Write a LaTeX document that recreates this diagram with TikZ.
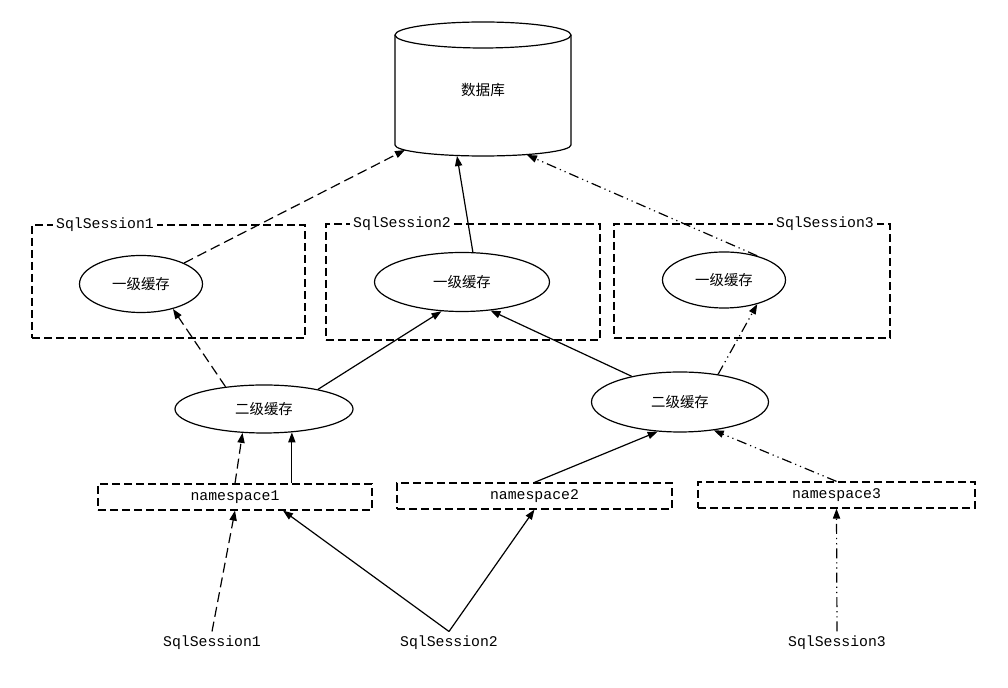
\documentclass[tikz,border=0pt]{standalone}
\usepackage{fontspec}
\setmonofont{Liberation Mono}
\newfontfamily\cjk{Noto Sans CJK SC}
\usetikzlibrary{arrows.meta,shapes.geometric,calc}
\begin{document}
\begin{tikzpicture}[x=0.5pt,y=-0.5pt,
  line width=0.6pt,
  ell/.style={draw,ellipse,inner sep=0pt,font=\cjk\fontsize{7.2pt}{8pt}\selectfont},
  sbox/.style={draw,rectangle,dash pattern=on 4pt off 2pt,inner sep=0pt},
  nsbox/.style={draw,rectangle,dash pattern=on 4pt off 2pt,inner sep=0pt,minimum height=13pt,font=\ttfamily\fontsize{7.4pt}{8pt}\selectfont},
  tlabel/.style={fill=white,inner sep=1.5pt,font=\ttfamily\fontsize{7.4pt}{8pt}\selectfont},
  blabel/.style={inner sep=2pt,font=\ttfamily\fontsize{7.4pt}{8pt}\selectfont},
  arr/.style={-{Triangle[length=5pt,width=3.6pt]}},
  dsh/.style={dash pattern=on 5pt off 2.5pt},
  ddd/.style={dash pattern=on 5pt off 2pt on 0.6pt off 2pt on 0.6pt off 2pt},
]
\useasboundingbox (0,0) rectangle (1008,688);
% database cylinder
\draw (483,35) ellipse [x radius=44pt, y radius=6.5pt];
\draw (395,35) -- (395,145) arc[start angle=180, end angle=360, x radius=44pt, y radius=5.5pt] -- (571,35);
\node[font=\cjk\fontsize{7.3pt}{8pt}\selectfont] (db) at (483,90) {数据库};
\coordinate (dbA) at (405,150);
\coordinate (dbB) at (457,156);
\coordinate (dbC) at (527,155);

% session boxes
\node[sbox,minimum width=136.5pt,minimum height=56.5pt] (s1) at (168.5,281.5) {};
\node[sbox,minimum width=137pt,minimum height=58pt] (s2) at (463,282) {};
\node[sbox,minimum width=138pt,minimum height=57pt] (s3) at (752,281) {};
\node[tlabel] (s1l) at (105,225) {SqlSession1};
\node[tlabel] (s2l) at (402,224) {SqlSession2};
\node[tlabel] (s3l) at (825,224) {SqlSession3};

% level-1 caches
\node[ell,minimum width=61.5pt,minimum height=28.5pt] (e1) at (141,284) {一级缓存};
\node[ell,minimum width=87.5pt,minimum height=29.5pt] (e2) at (462,282) {一级缓存};
\node[ell,minimum width=61.5pt,minimum height=28pt] (e3) at (724,280) {一级缓存};

% level-2 caches
\node[ell,minimum width=89pt,minimum height=24pt] (e4) at (264,409) {二级缓存};
\node[ell,minimum width=88.5pt,minimum height=30pt] (e5) at (680,402) {二级缓存};

% namespaces
\node[nsbox,minimum width=137pt] (ns1) at (235,497) {namespace1};
\node[nsbox,minimum width=137.5pt] (ns2) at (534.5,496) {namespace2};
\node[nsbox,minimum width=138.5pt] (ns3) at (836.5,495) {namespace3};

% bottom sessions
\node[blabel] (b1) at (212,643) {SqlSession1};
\node[blabel] (b2) at (449,643) {SqlSession2};
\node[blabel] (b3) at (837,643) {SqlSession3};

% connectors to database
\draw[arr,dsh] (e1.26) -- (dbA);
\draw[arr] (e2.70) -- (dbB);
\draw[arr,ddd] (e3.36) -- (dbC);

% level-2 to level-1
\draw[arr,dsh] (e4.150) -- (e1.-38);
\draw[arr] (e4.20) -- (e2.-125);
\draw[arr] (e5.152) -- (e2.-45);
\draw[arr,ddd] (e5.36) -- (e3.-36);

% namespaces to level-2
\draw[arr,dsh] (ns1.north) -- (e4.-132);
\draw[arr] (ns1.north -| e4.-40) -- (e4.-40);
\draw[arr] (ns2.north) -- (e5.-127);
\draw[arr,ddd] (ns3.north) -- (e5.-40);

% sessions to namespaces
\draw[arr,dsh] (b1.north) -- (ns1.south);
\draw[arr] (b2.north) -- ($(ns1.south)+(48,0)$);
\draw[arr] (b2.north) -- (ns2.south);
\draw[arr,ddd] (b3.north) -- (ns3.south);
\end{tikzpicture}
\end{document}
